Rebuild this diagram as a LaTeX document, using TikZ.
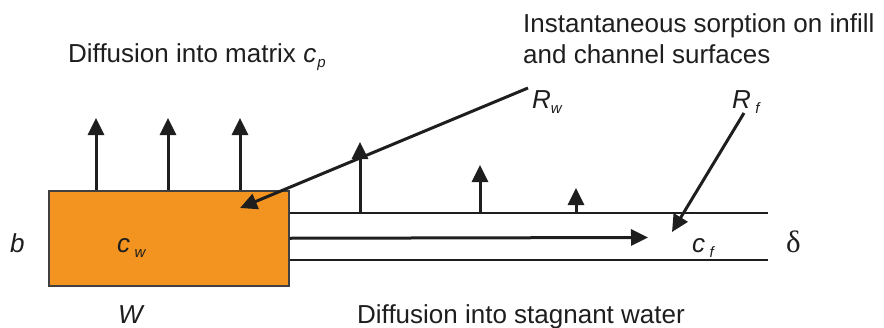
\documentclass[tikz,border=0pt]{standalone}
\usepackage{fontspec}
\setmainfont{Liberation Sans}
\newfontfamily\serifdelta{Liberation Serif}
\usetikzlibrary{arrows.meta}
\definecolor{boxorange}{RGB}{243,148,32}
\definecolor{ink}{RGB}{30,30,30}
\newcommand{\subsc}[1]{\raisebox{-5pt}{\fontsize{15}{15}\selectfont\itshape #1}}
\begin{document}
\begin{tikzpicture}[x=1pt,y=-1pt,
  txt/.style={inner sep=0pt, anchor=base west, text=ink, font=\fontsize{26}{30}\selectfont},
  arr/.style={draw=ink, line width=3pt, -{Triangle[length=17pt,width=16pt]}},
  chan/.style={draw=ink, line width=2pt}]
\useasboundingbox (0,0) rectangle (884,327);
% box
\node[draw=ink!85, line width=1.5pt, fill=boxorange, inner sep=0pt, anchor=north west,
      minimum width=240pt, minimum height=95pt] (box) at (48,190) {};
% coordinates
\coordinate (m1) at (96,118);
\coordinate (m2) at (168,118);
\coordinate (m3) at (240,118);
\coordinate (ct) at (768,213);
\coordinate (cb) at (768,260);
\coordinate (fa) at (648,237.5);
\coordinate (s1) at (360,142);
\coordinate (s2) at (480,165);
\coordinate (s3) at (576,188);
\coordinate (rws) at (528,88);
\coordinate (rwt) at (240,208);
\coordinate (rfs) at (744,113);
\coordinate (rft) at (672,232);
% channel
\draw[chan] (box.north east |- ct) -- (ct);
\draw[chan] (box.north east |- cb) -- (cb);
\draw[arr] (box.east) -- (fa);
% arrows into matrix
\draw[arr] (box.north -| m1) -- (m1);
\draw[arr] (box.north -| m2) -- (m2);
\draw[arr] (box.north -| m3) -- (m3);
% arrows from channel
\draw[arr] (s1 |- ct) -- (s1);
\draw[arr] (s2 |- ct) -- (s2);
\draw[arr] (s3 |- ct) -- (s3);
% sorption arrows
\draw[arr] (rws) -- (rwt);
\draw[arr] (rfs) -- (rft);
% texts
\node[txt] (t1) at (68,62) {Diffusion into matrix \textit{c}\kern1pt\subsc{p}};
\node[txt] (t2) at (523,32) {Instantaneous sorption on infill};
\node[txt] (t3) at (523,63) {and channel surfaces};
\node[txt] (rw) at (532,108) {\textit{R}\subsc{w}};
\node[txt] (rf) at (732,108) {\textit{R}\,\subsc{f}};
\node[txt] (b) at (10,252) {\textit{b}};
\node[txt] (cw) at (117,252) {\textit{c}\,\subsc{w}};
\node[txt] (W) at (118,323) {\textit{W}};
\node[txt] (t4) at (357,323) {Diffusion into stagnant water};
\node[txt] (cf) at (692,252) {\textit{c}\,\subsc{f}};
\node[txt, font=\fontsize{31}{34}\selectfont] (delta) at (786,252) {\serifdelta δ};
\end{tikzpicture}
\end{document}
